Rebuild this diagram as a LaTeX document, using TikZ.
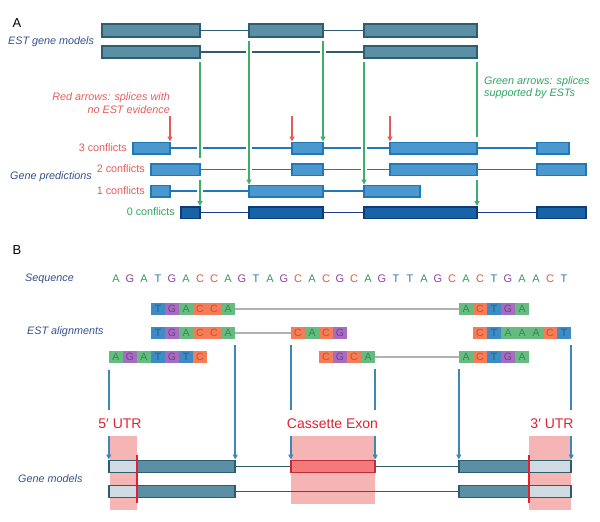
\documentclass[tikz,border=0pt]{standalone}
\usepackage{fontspec}
\setmainfont{Liberation Sans}
\usetikzlibrary{arrows.meta, calc}

\definecolor{labblue}{HTML}{34508F}
\definecolor{redtxt}{HTML}{E45B5C}
\definecolor{grntxt}{HTML}{2FA560}
\definecolor{grnline}{HTML}{3DAE6B}
\definecolor{estfill}{HTML}{5B8FA5}
\definecolor{estedge}{HTML}{2E5D70}
\definecolor{predfill}{HTML}{4A98CE}
\definecolor{prededge}{HTML}{2078B8}
\definecolor{zerofill}{HTML}{1862A8}
\definecolor{zeroedge}{HTML}{0E3C78}
\definecolor{zerointron}{HTML}{1E3F86}
\definecolor{seqA}{HTML}{2E9E5B}
\definecolor{seqG}{HTML}{8F3F9E}
\definecolor{seqC}{HTML}{E45A3A}
\definecolor{seqT}{HTML}{2F78B0}
\definecolor{fillA}{HTML}{66BC80}
\definecolor{fillG}{HTML}{A66CBF}
\definecolor{fillC}{HTML}{F27D56}
\definecolor{fillT}{HTML}{3F8CC5}
\definecolor{inkA}{HTML}{2F8A4F}
\definecolor{inkG}{HTML}{7A3D99}
\definecolor{inkC}{HTML}{D64A2C}
\definecolor{inkT}{HTML}{1F5F98}
\definecolor{bluearrow}{HTML}{3F87B9}
\definecolor{utrpink}{HTML}{F6B5B5}
\definecolor{utrfill}{HTML}{D0DCE4}
\definecolor{casfill}{HTML}{F27A7A}
\definecolor{casedge}{HTML}{C42B38}
\definecolor{utrred}{HTML}{E3202E}

\begin{document}
\begin{tikzpicture}[x=1pt, y=-1pt]
\tikzset{
    panel/.style={font=\fontsize{13}{15}\selectfont, inner sep=0},
    side label/.style={font=\fontsize{10.8}{12.5}\selectfont\itshape, text=labblue, inner sep=0, anchor=west},
    conflict label/.style={font=\fontsize{10.8}{12.5}\selectfont, inner sep=0, anchor=east},
    estexon/.style={fill=estfill, draw=estedge, line width=1.8pt},
    estintron/.style={draw=estedge, line width=1.6pt},
    predexon/.style={fill=predfill, draw=prededge, line width=1.5pt},
    predintron/.style={draw=prededge, line width=1.5pt},
    zeroexon/.style={fill=zerofill, draw=zeroedge, line width=1.5pt},
    zerointron/.style={draw=zerointron, line width=1.6pt},
    splice ok/.style={draw=grnline, line width=1.5pt},
    splice bad/.style={draw=redtxt, line width=1.5pt},
    tip/.style={-{Triangle[length=5pt, width=5pt]}},
    seqbase/.style={text=seq#1, font=\fontsize{11}{13}\selectfont, inner sep=0, text height=8pt, text depth=0pt},
    estcell/.style={fill=fill#1, text=ink#1, font=\fontsize{10.5}{12}\selectfont, inner sep=0,
        minimum width=14pt, minimum height=12pt, text height=7.5pt, text depth=0pt},
    estgap/.style={draw=black!30, line width=2pt},
    bluearr/.style={draw=bluearrow, line width=1.6pt},
    region label/.style={text=utrred, font=\fontsize{14}{16}\selectfont, inner xsep=0, inner ysep=7.5pt,
        text height=10pt, text depth=0pt},
    gmexon/.style={draw=estedge, line width=1.8pt},
    gmintron/.style={draw=estedge, line width=1.6pt}
}
\useasboundingbox (0,0) rectangle (600,522);

%% ---------------- Panel A ----------------
\node[panel] (labA) at (17,23) {A};
\node[side label] (estmodels) at (8,41.5) {EST gene models};

% EST gene models
\draw[estintron] (200,30.5) -- (249,30.5);
\draw[estintron] (323,30.5) -- (364,30.5);
\draw[estexon] (102,24) rectangle (200,37);
\draw[estexon] (249,24) rectangle (323,37);
\draw[estexon] (364,24) rectangle (477,37);

\draw[estintron] (200,52) -- (246,52);
\draw[estintron] (252,52) -- (320,52);
\draw[estintron] (326,52) -- (364,52);
\draw[estexon] (102,46) rectangle (200,58);
\draw[estexon] (364,46) rectangle (477,58);

% notes
\node[font=\fontsize{10.8}{12.3}\selectfont\itshape, text=redtxt, align=right, inner sep=0, anchor=east]
    (rednote) at (170,103) {Red arrows: splices with\\no EST evidence};
\node[font=\fontsize{10.8}{12}\selectfont\itshape, text=grntxt, align=left, inner sep=0, anchor=west]
    (grnnote) at (484,88) {Green arrows: splices\\supported by ESTs};

% gene predictions
\node[side label] (genepred) at (10,177) {Gene predictions};
\node[conflict label, text=redtxt] (c3) at (127,147.5) {3 conflicts};
\node[conflict label, text=redtxt] (c2) at (145,169) {2 conflicts};
\node[conflict label, text=redtxt] (c1) at (145,190.5) {1 conflicts};
\node[conflict label, text=grntxt] (c0) at (175,212) {0 conflicts};

% 3 conflicts
\draw[predintron] (170,148) -- (197,148) (203,148) -- (246,148) (252,148) -- (292,148);
\draw[predintron] (323,148) -- (361,148) (367,148) -- (390,148);
\draw[predintron] (477,148) -- (537,148);
\draw[predexon] (133,142.25) rectangle (170,153.75);
\draw[predexon] (292,142.25) rectangle (323,153.75);
\draw[predexon] (390,142.25) rectangle (477,153.75);
\draw[predexon] (537,142.25) rectangle (569,153.75);
% 2 conflicts
\draw[predintron] (200,169.5) -- (246,169.5) (252,169.5) -- (292,169.5);
\draw[predintron] (323,169.5) -- (361,169.5) (367,169.5) -- (390,169.5);
\draw[predintron] (477,169.5) -- (537,169.5);
\draw[predexon] (151,163.75) rectangle (200,175.25);
\draw[predexon] (292,163.75) rectangle (323,175.25);
\draw[predexon] (390,163.75) rectangle (477,175.25);
\draw[predexon] (537,163.75) rectangle (586,175.25);
% 1 conflicts
\draw[predintron] (170,191) -- (197,191) (203,191) -- (249,191);
\draw[predintron] (323,191) -- (364,191);
\draw[predexon] (151,185.25) rectangle (170,196.75);
\draw[predexon] (249,185.25) rectangle (323,196.75);
\draw[predexon] (364,185.25) rectangle (420,196.75);
% 0 conflicts
\draw[zerointron] (200,212.5) -- (249,212.5) (323,212.5) -- (364,212.5) (477,212.5) -- (537,212.5);
\draw[zeroexon] (181,206.75) rectangle (200,218.25);
\draw[zeroexon] (249,206.75) rectangle (323,218.25);
\draw[zeroexon] (364,206.75) rectangle (477,218.25);
\draw[zeroexon] (537,206.75) rectangle (586,218.25);

% Green arrows
\draw[splice ok] (200,62) -- (200,158);
\draw[splice ok, tip] (200,180) -- (200,206);
\draw[splice ok, tip] (249,41) -- (249,184.5);
\draw[splice ok, tip] (323,41) -- (323,141.5);
\draw[splice ok, tip] (364,62) -- (364,184.5);
\draw[splice ok] (477,62) -- (477,137);
\draw[splice ok, tip] (477,180) -- (477,206);

% Red arrows
\draw[splice bad, tip] (170,116) -- (170,141.5);
\draw[splice bad, tip] (292,116) -- (292,141.5);
\draw[splice bad, tip] (390,116) -- (390,141.5);

%% ---------------- Panel B ----------------
\node[panel] (labB) at (17,250) {B};
\node[side label] (seqlabel) at (25,278.5) {Sequence};
\node[side label] (estlabel) at (27,332) {EST alignments};
\node[side label] (gmlabel) at (18,479) {Gene models};

\foreach \b [count=\i from 0] in {A,G,A,T,G,A,C,C,A,G,T,A,G,C,A,C,G,C,A,G,T,T,A,G,C,A,C,T,G,A,A,C,T}
    \node[seqbase=\b] (s\i) at ({116+14*\i},278) {\b};

% EST alignments
\foreach \b [count=\i from 3] in {T,G,A,C,C,A}
    \node[estcell=\b] (ra\i) at ({116+14*\i},309) {\b};
\foreach \b [count=\i from 25] in {A,C,T,G,A}
    \node[estcell=\b] (ra\i) at ({116+14*\i},309) {\b};
\foreach \b [count=\i from 3] in {T,G,A,C,C,A}
    \node[estcell=\b] (rb\i) at ({116+14*\i},332.5) {\b};
\foreach \b [count=\i from 13] in {C,A,C,G}
    \node[estcell=\b] (rb\i) at ({116+14*\i},332.5) {\b};
\foreach \b [count=\i from 26] in {C,T,A,A,A,C,T}
    \node[estcell=\b] (rb\i) at ({116+14*\i},332.5) {\b};
\foreach \b [count=\i from 0] in {A,G,A,T,G,T,C}
    \node[estcell=\b] (rc\i) at ({116+14*\i},357) {\b};
\foreach \b [count=\i from 15] in {C,G,C,A}
    \node[estcell=\b] (rc\i) at ({116+14*\i},357) {\b};
\foreach \b [count=\i from 25] in {A,C,T,G,A}
    \node[estcell=\b] (rc\i) at ({116+14*\i},357) {\b};

\draw[estgap] (ra8.east) -- (ra25.west);
\draw[estgap] (rb8.east) -- (rb13.west);
\draw[estgap] (rc18.east) -- (rc25.west);

% UTR / cassette shading
\fill[utrpink] (110,436) rectangle (137,510);
\fill[utrpink] (291,436) rectangle (375,504);
\fill[utrpink] (529,436) rectangle (571,510);

\node[region label] (utr5) at (120,423) {5′ UTR};
\node[region label] (cas) at (332.5,423) {Cassette Exon};
\node[region label] (utr3) at (552,423) {3′ UTR};

\coordinate (g1top) at (0,459.5);

% Blue arrows
\draw[bluearr] ([yshift=-7pt]rc0.south west) -- (rc0.south west |- utr5.north);
\draw[bluearr, tip] (rc0.south west |- utr5.south) -- (rc0.south west |- g1top);
\draw[bluearr, tip] ([yshift=-6pt]rb8.south east) -- (rb8.south east |- g1top);
\draw[bluearr] ([yshift=-6pt]rb13.south west) -- (rb13.south west |- cas.north);
\draw[bluearr, tip] (rb13.south west |- cas.south) -- (rb13.south west |- g1top);
\draw[bluearr] ([yshift=-6pt]rc18.south east) -- (rc18.south east |- cas.north);
\draw[bluearr, tip] (rc18.south east |- cas.south) -- (rc18.south east |- g1top);
\draw[bluearr, tip] ([yshift=-6pt]rc25.south west) -- (rc25.south west |- g1top);
\draw[bluearr] ([yshift=-6pt]rb32.south east) -- (rb32.south east |- utr3.north);
\draw[bluearr, tip] (rb32.south east |- utr3.south) -- (rb32.south east |- g1top);

% Gene models
\draw[gmintron] (235,466.5) -- (291,466.5) (375,466.5) -- (459,466.5);
\fill[utrfill] (109,460.5) rectangle (137,472.5);
\fill[estfill] (137,460.5) rectangle (235,472.5);
\draw[gmexon] (109,460.5) rectangle (235,472.5);
\draw[fill=casfill, draw=casedge, line width=1.8pt] (291,460.5) rectangle (375,472.5);
\fill[estfill] (459,460.5) rectangle (529,472.5);
\fill[utrfill] (529,460.5) rectangle (571,472.5);
\draw[gmexon] (459,460.5) rectangle (571,472.5);

\draw[gmintron] (235,491.5) -- (459,491.5);
\fill[utrfill] (109,485.5) rectangle (137,497.5);
\fill[estfill] (137,485.5) rectangle (235,497.5);
\draw[gmexon] (109,485.5) rectangle (235,497.5);
\fill[estfill] (459,485.5) rectangle (529,497.5);
\fill[utrfill] (529,485.5) rectangle (571,497.5);
\draw[gmexon] (459,485.5) rectangle (571,497.5);

\draw[utrred, line width=1.5pt] (137,455) -- (137,503);
\draw[utrred, line width=1.5pt] (529,455) -- (529,503);
\end{tikzpicture}
\end{document}
